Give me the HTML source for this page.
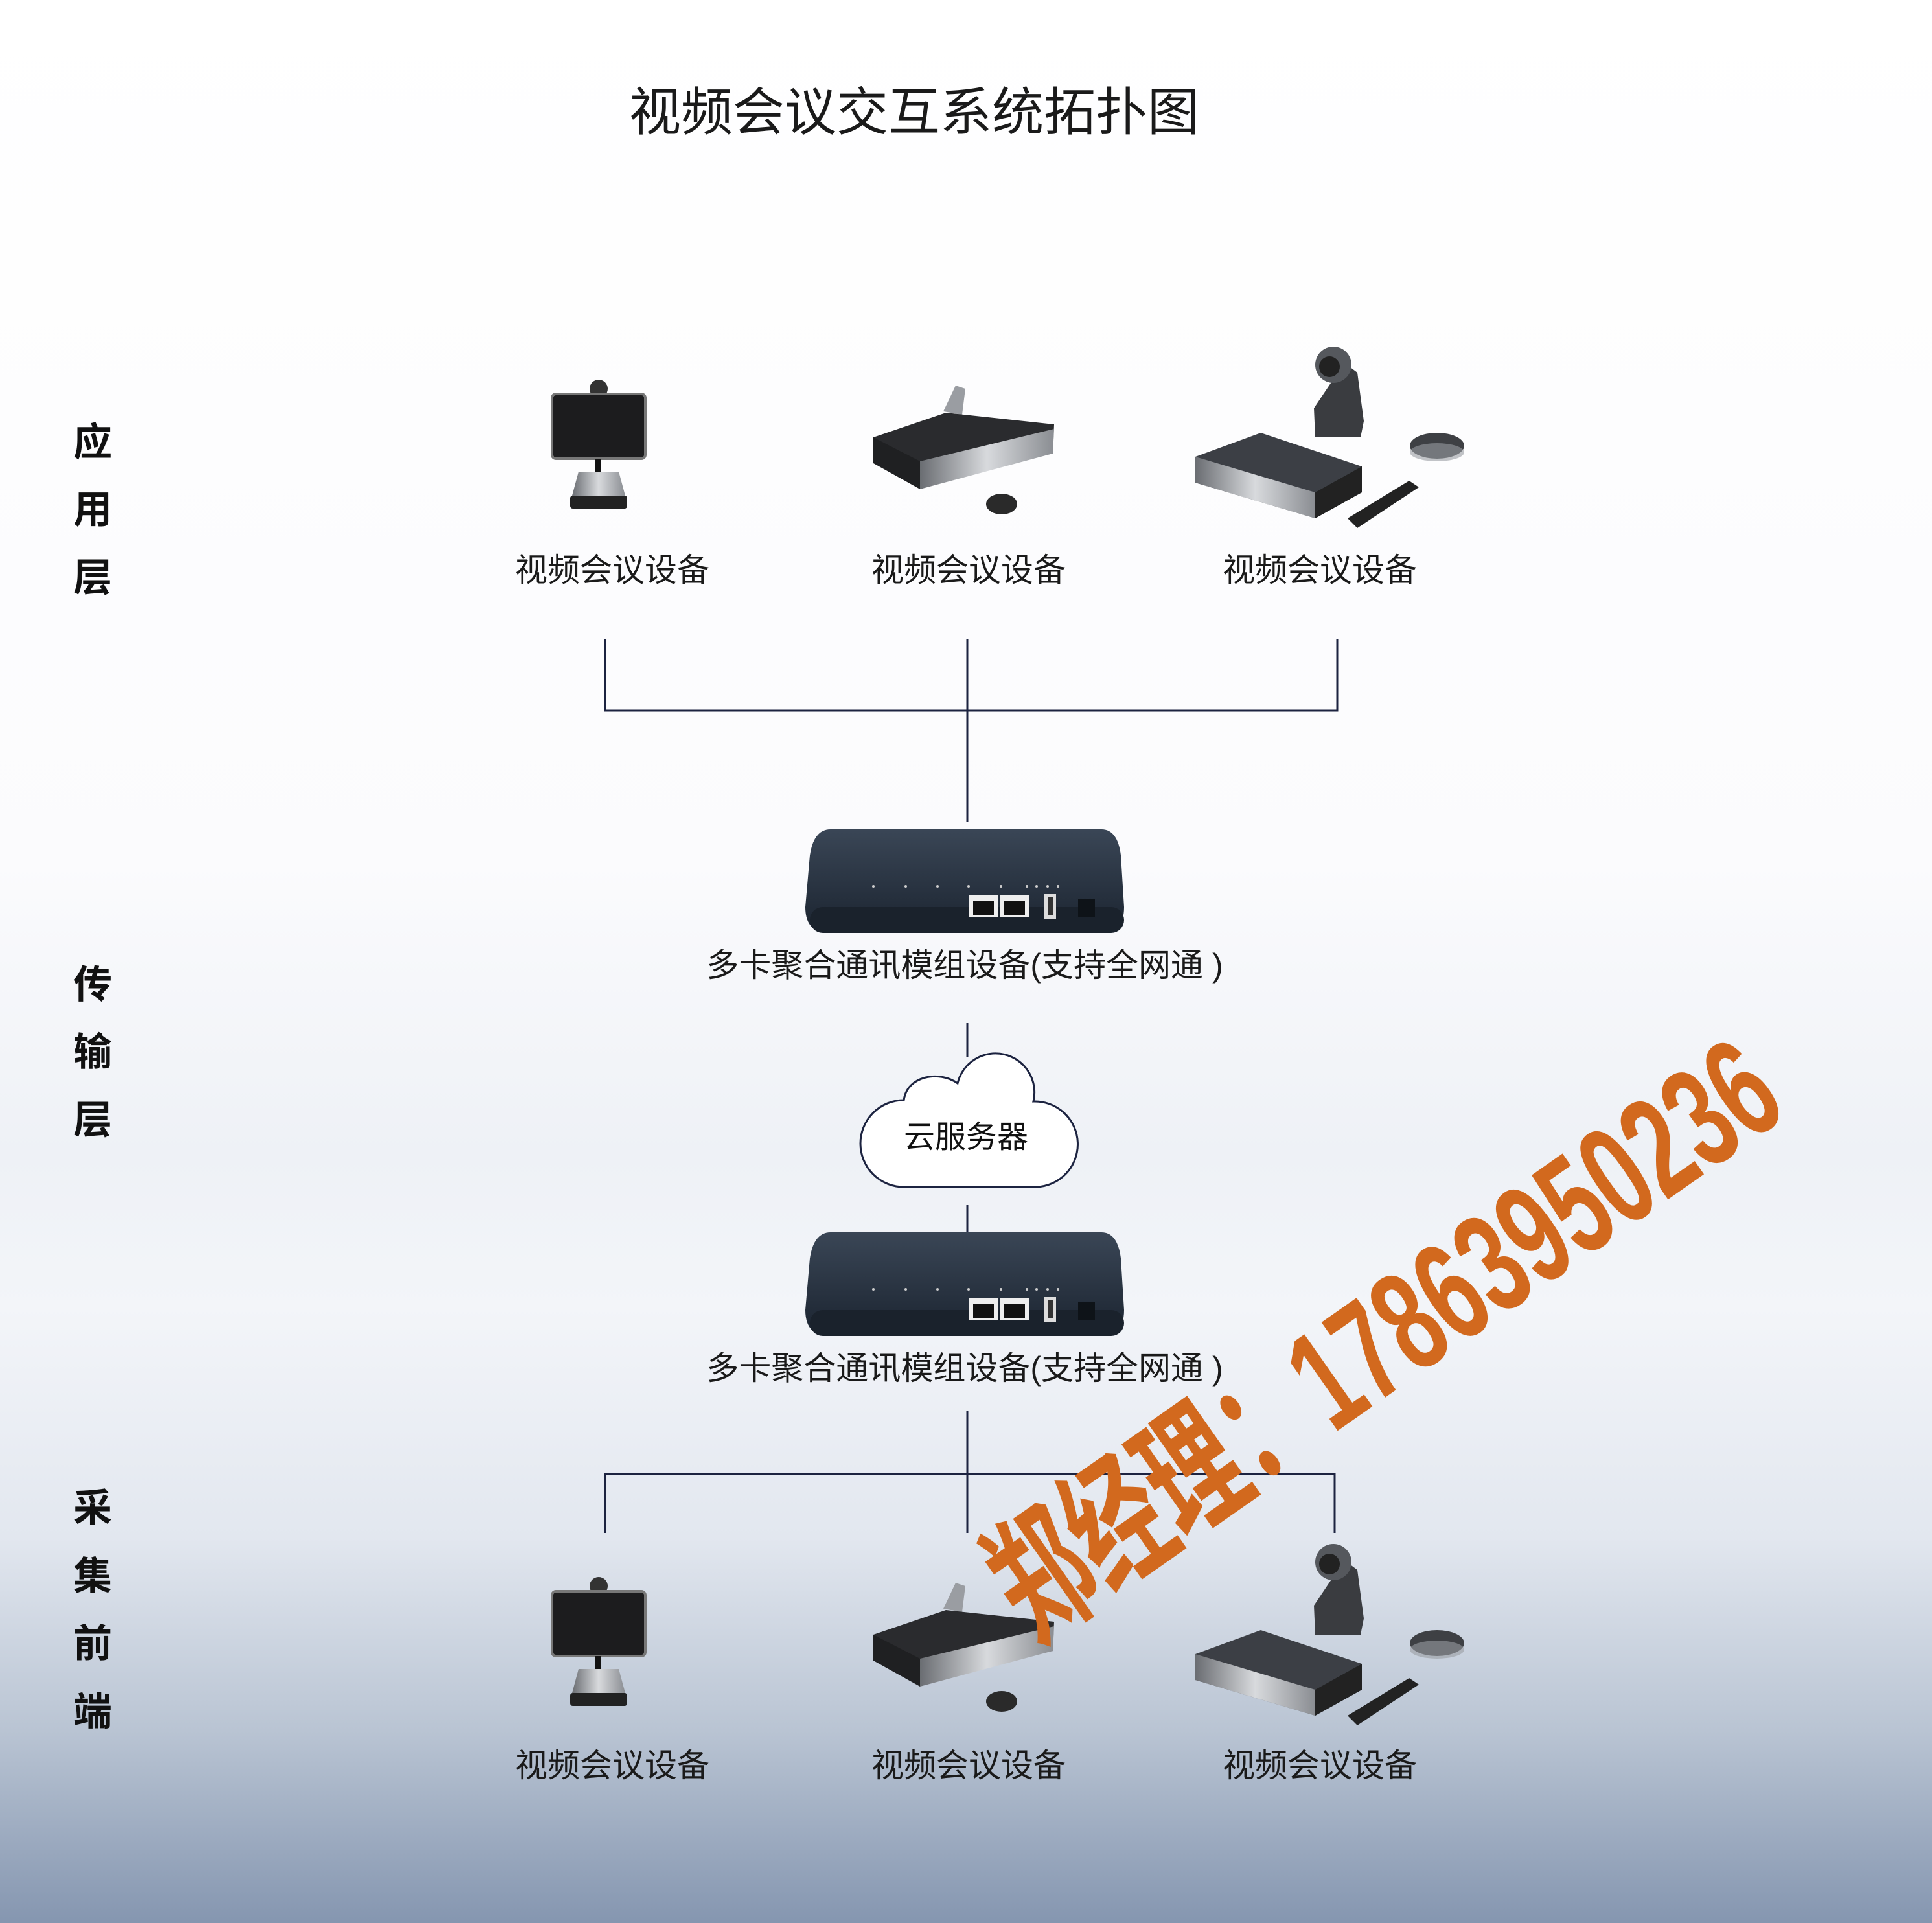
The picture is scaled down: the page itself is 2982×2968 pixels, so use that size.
<!DOCTYPE html>
<html><head><meta charset="utf-8">
<style>
html,body{margin:0;padding:0}
body{width:2982px;height:2968px;position:relative;overflow:hidden;
background:linear-gradient(180deg,#ffffff 0%,#fbfbfd 45%,#eef1f6 60%,#f3f5f9 68%,#e2e7ef 80%,#b9c4d3 90%,#8596b0 100%);
font-family:"Liberation Sans","Noto Sans CJK SC",sans-serif;color:#111}
.t{position:absolute;white-space:nowrap;transform:translate(-50%,-50%)}
.side{position:absolute;left:143px;font-weight:bold;font-size:60px;transform:translate(-50%,-50%);color:#111}
.lbl{font-size:50px;color:#1a1a1a}
</style></head><body>
<svg width="2982" height="2968" style="position:absolute;left:0;top:0">
<defs>
<linearGradient id="sil" x1="0" x2="1"><stop offset="0" stop-color="#6a6d72"/><stop offset=".5" stop-color="#d8dadd"/><stop offset="1" stop-color="#8a8d92"/></linearGradient>
<linearGradient id="rt" x1="0" y1="0" x2="0" y2="1"><stop offset="0" stop-color="#3a4656"/><stop offset="1" stop-color="#1b2430"/></linearGradient>
<g id="devs">
 <circle cx="924" cy="600" r="14" fill="#333"/>
 <rect x="852" y="608" width="144" height="100" rx="6" fill="#1c1c1e" stroke="#777" stroke-width="4"/>
 <rect x="918" y="708" width="10" height="20" fill="#111"/>
 <path d="M893 728 H955 L965 765 H883 Z" fill="url(#sil)"/>
 <rect x="880" y="765" width="88" height="20" rx="4" fill="#222"/>
 <path d="M1456 635 L1475 595 L1490 600 L1485 640 Z" fill="#9a9da2"/>
 <path d="M1348 675 L1460 637 L1627 655 L1625 700 L1420 745 L1348 710 Z" fill="#2a2b2e"/>
 <path d="M1420 712 L1627 662 L1625 700 L1420 755 Z" fill="url(#sil)"/>
 <path d="M1348 675 L1420 712 L1420 755 L1348 715 Z" fill="#1f2022"/>
 <ellipse cx="1546" cy="778" rx="24" ry="16" fill="#2a2a2a"/>
 <path d="M2028 630 L2075 560 L2095 575 L2105 650 L2100 675 L2030 675 Z" fill="#3a3c40"/>
 <circle cx="2058" cy="563" r="28" fill="#55585d"/>
 <circle cx="2052" cy="566" r="16" fill="#222"/>
 <path d="M1845 705 L1946 668 L2102 720 L2102 760 L2030 800 L1845 745 Z" fill="#3c3f45"/>
 <path d="M1845 705 L2030 760 L2030 800 L1845 745 Z" fill="url(#sil)"/>
 <path d="M2030 760 L2102 720 L2102 760 L2030 800 Z" fill="#222"/>
 <ellipse cx="2218" cy="688" rx="42" ry="20" fill="#3e4044"/>
 <ellipse cx="2218" cy="698" rx="42" ry="14" fill="#9a9da2" opacity=".6"/>
 <path d="M2080 800 L2175 742 L2190 752 L2095 815 Z" fill="#222"/>
</g>
<g id="router">
 <path d="M1282 0 H1700 Q1725 0 1730 40 L1735 120 Q1735 160 1700 160 H1280 Q1243 160 1243 120 L1250 40 Q1256 0 1282 0 Z" fill="url(#rt)"/>
 <rect x="1250" y="120" width="485" height="40" rx="20" fill="#1a222c"/>
 <rect x="1496" y="102" width="44" height="34" fill="#eee"/><rect x="1502" y="110" width="32" height="22" fill="#111"/>
 <rect x="1544" y="102" width="44" height="34" fill="#eee"/><rect x="1550" y="110" width="32" height="22" fill="#111"/>
 <rect x="1612" y="100" width="18" height="38" fill="#ddd"/><rect x="1617" y="105" width="8" height="28" fill="#333"/>
 <rect x="1664" y="108" width="26" height="28" fill="#0e1318"/>
 <g fill="#ccc"><circle cx="1348" cy="88" r="2"/><circle cx="1398" cy="88" r="2"/><circle cx="1447" cy="88" r="2"/><circle cx="1495" cy="88" r="2"/><circle cx="1545" cy="88" r="2"/><circle cx="1585" cy="88" r="2"/><circle cx="1600" cy="88" r="2"/><circle cx="1617" cy="88" r="2"/><circle cx="1633" cy="88" r="2"/></g>
</g>
</defs>
<use href="#devs"/>
<use href="#devs" transform="translate(0,1848)"/>
<use href="#router" transform="translate(0,1280)"/>
<use href="#router" transform="translate(0,1902)"/>
<g stroke="#1c2340" stroke-width="3" fill="none">
 <path d="M934 987 V1097 H2064 V987"/>
 <path d="M1493 987 V1269"/>
 <path d="M1493 1579 V1632"/>
 <path d="M1493 1860 V1902"/>
 <path d="M1493 2178 V2366"/>
 <path d="M934 2366 V2275 H2060 V2366"/>
 <path d="M1395 1832 A67 67 0 0 1 1395 1698 C1400 1660 1450 1652 1478 1672 A58 58 0 0 1 1595 1700 A66 66 0 0 1 1600 1832 Z" fill="#fff"/>
</g>
</svg>
<div class="t" style="left:1411px;top:167px;font-size:80px;color:#1a1a1a">视频会议交互系统拓扑图</div>
<div class="side" style="top:678px">应</div><div class="side" style="top:782px">用</div><div class="side" style="top:887px">层</div>
<div class="side" style="top:1515px">传</div><div class="side" style="top:1619px">输</div><div class="side" style="top:1724px">层</div>
<div class="side" style="top:2323px">采</div><div class="side" style="top:2428px">集</div><div class="side" style="top:2532px">前</div><div class="side" style="top:2637px">端</div>
<div class="t lbl" style="left:945px;top:876px">视频会议设备</div>
<div class="t lbl" style="left:1495px;top:876px">视频会议设备</div>
<div class="t lbl" style="left:2037px;top:876px">视频会议设备</div>
<div class="t lbl" style="left:945px;top:2721px">视频会议设备</div>
<div class="t lbl" style="left:1495px;top:2721px">视频会议设备</div>
<div class="t lbl" style="left:2037px;top:2721px">视频会议设备</div>
<div class="t lbl" style="left:1489px;top:1486px">多卡聚合通讯模组设备(支持全网通 )</div>
<div class="t lbl" style="left:1489px;top:2108px">多卡聚合通讯模组设备(支持全网通 )</div>
<div class="t" style="left:1491px;top:1750px;font-size:48px">云服务器</div>
<div class="t" style="left:2125px;top:2050px;transform:translate(-50%,-50%) rotate(-35deg) scaleX(0.64);font-size:220px;font-weight:bold;color:#d2691e">郑经理：17863950236</div>
</body></html>
